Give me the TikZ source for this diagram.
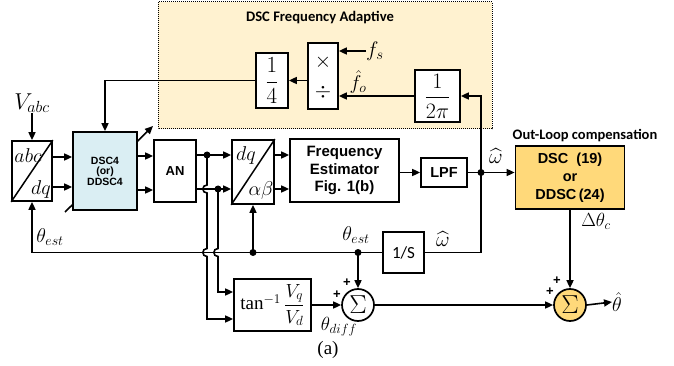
\RequirePackage{fix-cm}
\documentclass[tikz,border=0pt]{standalone}
\usepackage{amsmath}
\usepackage{fontspec}
\setmainfont{Liberation Serif}
\newfontfamily\arialf{Liberation Sans}
\newfontfamily\calf{Carlito}
\usetikzlibrary{arrows.meta}
\definecolor{dscblue}{HTML}{DAEEF3}
\definecolor{outorange}{HTML}{FFD97A}
\definecolor{adaptbg}{HTML}{FFF2D0}
\begin{document}
\begin{tikzpicture}[x=1pt,y=-1pt,
  blk/.style={draw,line width=1.7pt,fill=white,inner sep=0pt},
  arr/.style={line width=1.6pt,-{Triangle[length=8pt,width=7pt]}},
  dot/.style={circle,fill,inner sep=0pt,minimum size=7pt},
  sumc/.style={draw,circle,line width=1.7pt,fill=white,minimum size=32pt,inner sep=0pt,font=\fontsize{26}{26}\selectfont},
  bsans/.style={font=\arialf\bfseries\fontsize{#1}{#1}\selectfont},
  mlab/.style={font=\fontsize{#1}{#1}\selectfont,inner sep=0pt},
  plus/.style={font=\arialf\bfseries\fontsize{13}{13}\selectfont,inner sep=0pt}]
\useasboundingbox (0,0) rectangle (674,366);

% adaptive region
\draw[densely dotted,line width=1pt,fill=adaptbg] (158,2) rectangle (492,129);
\node[font=\calf\bfseries\fontsize{14.6}{15}\selectfont] (adtitle) at (320,18) {DSC Frequency Adaptive};

% diagonal adjustable arrow through DSC4
\draw[arr] (65,212) -- (153,126);

% blocks
\node[blk,minimum width=40pt,minimum height=60pt] (abc) at (32,171) {};
\draw[line width=1.5pt] (abc.south west) -- (abc.north east);
\node[mlab=20] (abclab) at (28,156) {$abc$};
\node[mlab=20] (dqlab) at (41,189) {$dq$};

\node[blk,fill=dscblue,minimum width=64pt,minimum height=78pt,align=center,font=\arialf\bfseries\fontsize{10.5}{10.5}\selectfont] (dsc4) at (105,171) {DSC4\\(or)\\DDSC4};

\node[blk,minimum width=42pt,minimum height=62pt,bsans=13] (an) at (175,171) {AN};

\node[blk,minimum width=42pt,minimum height=64pt] (dqab) at (253,172) {};
\draw[line width=1.5pt] (dqab.south west) -- (dqab.north east);
\node[mlab=20] (dqlab2) at (246,156) {$dq$};
\node[mlab=20] (ablab) at (261,191) {$\alpha\beta$};

\node[blk,minimum width=109pt,minimum height=63pt,align=center,font=\arialf\bfseries\fontsize{15}{17.5}\selectfont] (fe) at (344.5,170.5) {Frequency\\Estimator\\Fig. 1(b)};

\node[blk,minimum width=46pt,minimum height=29pt,bsans=14.5] (lpf) at (444,172.5) {LPF};

\node[blk,fill=outorange,minimum width=109pt,minimum height=63pt,align=center,font=\arialf\bfseries\fontsize{14.5}{18}\selectfont] (dscout) at (570,177.5) {DSC~~(19)\\or\\DDSC\,(24)};
\node[font=\calf\bfseries\fontsize{14.5}{15}\selectfont] (outlab) at (585,136) {Out-Loop compensation};

\node[blk,minimum width=41pt,minimum height=41pt,font=\calf\fontsize{17}{17}\selectfont] (ones) at (403.5,252.5) {1/S};

\node[blk,minimum width=77pt,minimum height=52pt,font=\fontsize{19}{19}\selectfont] (tan) at (272.5,305) {$\tan^{-1}\dfrac{V_q}{V_d}$};

\node[sumc] (sum1) at (358,305) {$\Sigma$};
\node[sumc,fill=outorange] (sum2) at (570,305) {$\Sigma$};

\node[blk,minimum width=32pt,minimum height=55pt,font=\fontsize{23}{23}\selectfont] (quarter) at (272,80.5) {$\dfrac{1}{4}$};
\node[blk,minimum width=30pt,minimum height=66pt] (muldiv) at (323,76) {};
\node[mlab=21] (mulsym) at (323,62) {$\times$};
\node[mlab=21] (divsym) at (323,92) {$\div$};
\node[blk,minimum width=45pt,minimum height=52pt,font=\fontsize{22}{22}\selectfont] (twopi) at (437.5,96) {$\dfrac{1}{2\pi}$};

% labels
\node[mlab=23] (vabc) at (32,103) {$V_{abc}$};
\node[mlab=20] (thl) at (50,237) {$\theta_{est}$};
\node[mlab=20] (thr) at (356,235) {$\theta_{est}$};
\node[mlab=21] (wlow) at (443,239) {$\widehat{\omega}$};
\node[mlab=21] (whigh) at (496,156) {$\widehat{\omega}$};
\node[mlab=19] (dthc) at (596,221) {$\Delta\theta_c$};
\node[mlab=19] (thdiff) at (339,327) {$\theta_{diff}$};
\node[mlab=20,anchor=west] (thhat) at (612,302) {$\hat{\theta}$};
\node[mlab=21,anchor=west] (fs) at (366,51) {$f_s$};
\node[mlab=20] (fo) at (358,82) {$\hat{f}_o$};
\node[font=\fontsize{19}{19}\selectfont] (cap) at (328,350) {(a)};
\node[plus] (p1) at (347,283) {+};
\node[plus] (p2) at (337,295) {+};
\node[plus] (p3) at (557,281) {+};
\node[plus] (p4) at (550,292) {+};

% rows
\coordinate (ra) at (0,157);
\coordinate (rb) at (0,187);
\coordinate (rc) at (0,156);
\coordinate (rd) at (0,190);
\coordinate (re) at (0,155);
\coordinate (rf) at (0,189);

% connectors
\draw[arr] (vabc.south) -- (abc.north);
\draw[arr] (abc.east |- ra) -- (dsc4.west |- ra);
\draw[arr] (abc.east |- rb) -- (dsc4.west |- rb);
\draw[arr] (dsc4.east |- rc) -- (an.west |- rc);
\draw[arr] (dsc4.east |- rd) -- (an.west |- rd);
\draw[arr] (an.east |- re) -- (dqab.west |- re);
\draw[arr] (an.east |- rf) -- (dqab.west |- rf);
\node[dot] (d1) at (207,155) {};
\node[dot] (d2) at (218,189) {};
\draw[arr] (dqab.east |- re) -- (fe.west |- re);
\draw[arr] (dqab.east |- rf) -- (fe.west |- rf);
\draw[arr] (fe.east |- lpf.west) -- (lpf.west);
\node[dot] (jn) at (481,172.5) {};
\draw[arr] (lpf.east) -- (dscout.west |- lpf.east);
\draw[arr] (ones.east) -| (jn.center |- twopi.east) -- (twopi.east);
\draw[arr] (twopi.west) -- (muldiv.east |- twopi.west);
\draw[arr] (fs.west) -- (muldiv.east |- fs.west);
\draw[arr] (muldiv.west |- quarter.east) -- (quarter.east);
\draw[arr] (quarter.west) -| (dsc4.north);

% theta_est feedback
\draw[arr] (ones.west) -| (abc.south);
\node[dot] (d3) at (253,252.5) {};
\node[dot] (d4) at (358,252.5) {};
\draw[arr] (d3.center) -- (dqab.south);
\draw[arr] (d4.center) -- (sum1.north);

% verticals with hops into tan block
\draw[arr] (d1.center) -- (207,185) .. controls (201.5,185) and (201.5,193) .. (207,193)
  -- (207,248.5) .. controls (201.5,248.5) and (201.5,256.5) .. (207,256.5)
  |- ([yshift=-14pt]tan.west);
\draw[arr] (d2.center) -- (218,248.5) .. controls (212.5,248.5) and (212.5,256.5) .. (218,256.5)
  |- ([yshift=13pt]tan.west);

\draw[arr] (tan.east) -- (sum1.west);
\draw[arr] (sum1.east) -- (sum2.west);
\draw[arr] (dscout.south) -- (sum2.north);
\draw[arr] (sum2.east) -- (thhat.west);
\end{tikzpicture}
\end{document}
